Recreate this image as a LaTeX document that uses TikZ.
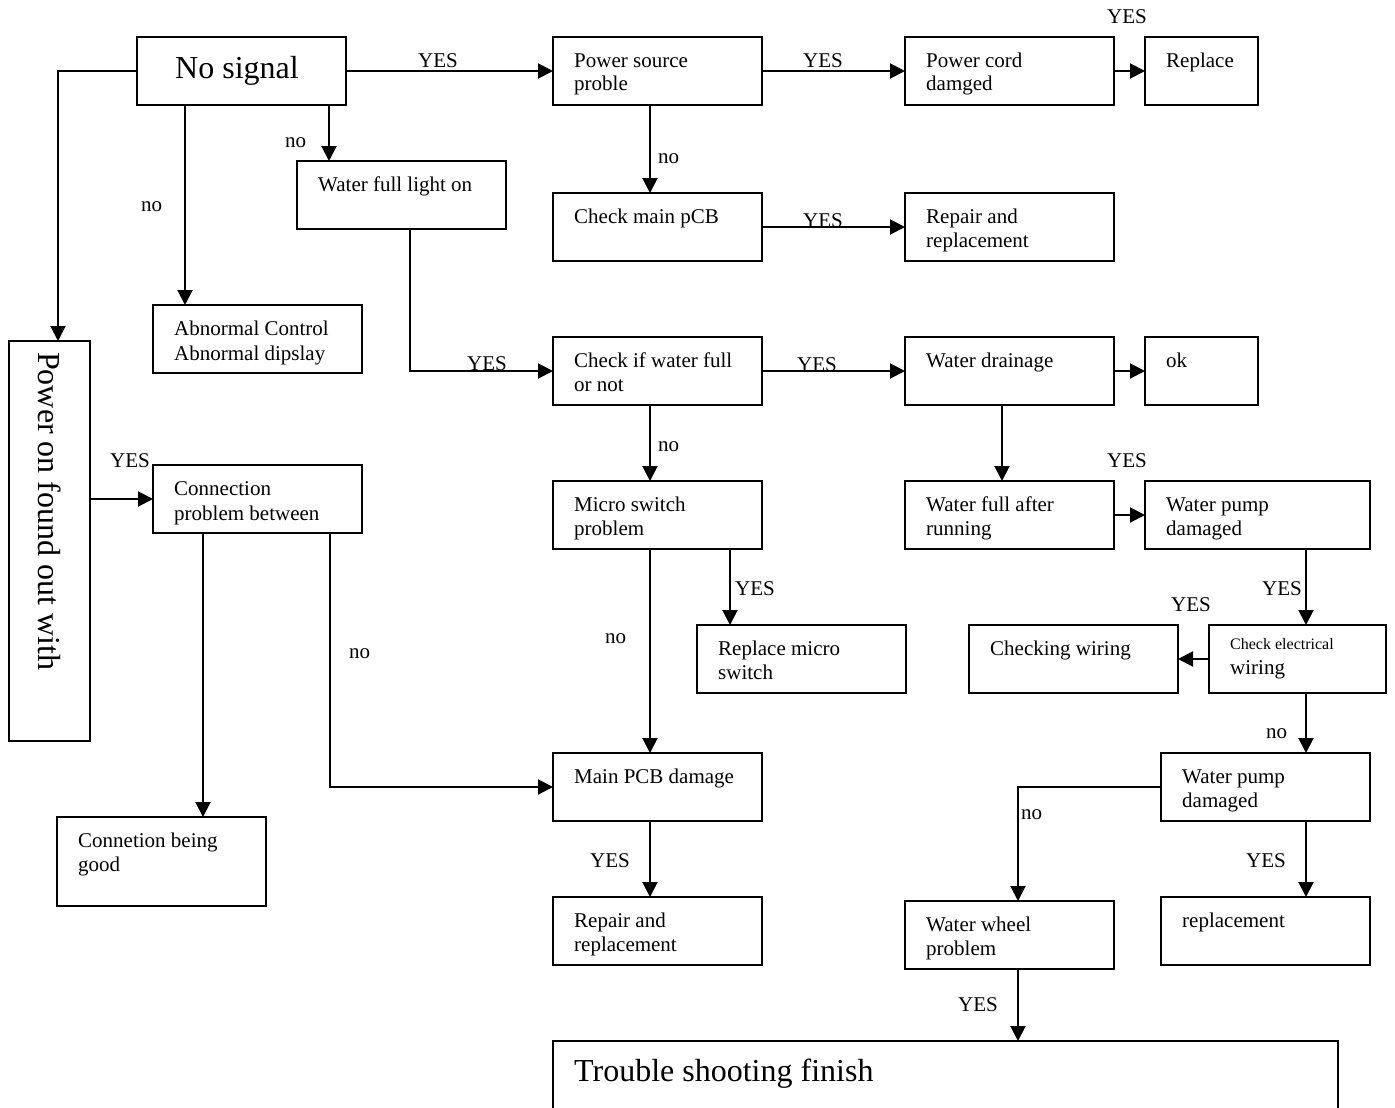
\documentclass[tikz,border=0pt]{standalone}
\usepackage{fontspec}
\setmainfont{Liberation Serif}
\usetikzlibrary{arrows.meta}
\tikzset{
  boxst/.style={draw, line width=2.2pt, inner sep=0pt, outer sep=0pt},
  txt/.style={anchor=base west, inner sep=0pt, font=\fontsize{21}{25}\selectfont},
  smalltxt/.style={anchor=base west, inner sep=0pt, font=\fontsize{16}{19}\selectfont},
  bigtxt/.style={anchor=base west, inner sep=0pt, font=\fontsize{32}{38}\selectfont},
  lbl/.style={anchor=base west, inner sep=0pt, font=\fontsize{21}{25}\selectfont},
  arr/.style={line width=2pt, -{Triangle[length=15pt,width=15pt]}},
}
\newcommand\bx[5]{\node[boxst, minimum width={#4-#2}, minimum height={#5-#3}] (#1) at ({(#2+#4)/2},{(#3+#5)/2}) {};}
\begin{document}
\begin{tikzpicture}[x=1pt,y=-1pt]
\useasboundingbox (0,0) rectangle (1395,1108);
\clip (0,0) rectangle (1395,1108);
\fill[white] (0,0) rectangle (1395,1108);
% helper x-coordinates
\foreach \xx in {58,185,203,329,330,410,650,730,1002,1018,1306}{\coordinate (x\xx) at (\xx,0);}
% boxes
\bx{ns}{137}{37}{346}{105}
\bx{ps}{553}{37}{762}{105}
\bx{pc}{905}{37}{1114}{105}
\bx{rp}{1145}{37}{1258}{105}
\bx{wfl}{297}{161}{506}{229}
\bx{cm}{553}{193}{762}{261}
\bx{rr1}{905}{193}{1114}{261}
\bx{ab}{153}{305}{362}{373}
\bx{po}{9}{341}{90}{741}
\bx{cw}{553}{337}{762}{405}
\bx{wd}{905}{337}{1114}{405}
\bx{ok}{1145}{337}{1258}{405}
\bx{cp}{153}{465}{362}{533}
\bx{ms}{553}{481}{762}{549}
\bx{wfa}{905}{481}{1114}{549}
\bx{wp}{1145}{481}{1370}{549}
\bx{rms}{697}{625}{906}{693}
\bx{chw}{969}{625}{1178}{693}
\bx{ce}{1209}{625}{1386}{693}
\bx{mp}{553}{753}{762}{821}
\bx{wp2}{1161}{753}{1370}{821}
\bx{cg}{57}{817}{266}{906}
\bx{rr2}{553}{897}{762}{965}
\bx{ww}{905}{901}{1114}{969}
\bx{rep}{1161}{897}{1370}{965}
\bx{tf}{553}{1041}{1338}{1140}
% box texts
\node[bigtxt] (tns) at (175,78) {No signal};
\node[txt] (tps1) at (574,67) {Power source};
\node[txt] (tps2) at (574,91) {proble};
\node[txt] (tpc1) at (926,67) {Power cord};
\node[txt] (tpc2) at (926,91) {damged};
\node[txt] (trp) at (1166,67) {Replace};
\node[txt] (twfl) at (318,191) {Water full light on};
\node[txt] (tcm) at (574,223) {Check main pCB};
\node[txt] (trr11) at (926,223) {Repair and};
\node[txt] (trr12) at (926,247) {replacement};
\node[txt] (tab1) at (174,335) {Abnormal Control};
\node[txt] (tab2) at (174,360) {Abnormal dipslay};
\node[bigtxt, rotate=-90] (tpo) at (38,352) {Power on found out with};
\node[txt] (tcw1) at (574,367) {Check if water full};
\node[txt] (tcw2) at (574,391) {or not};
\node[txt] (twd) at (926,367) {Water drainage};
\node[txt] (tok) at (1166,367) {ok};
\node[txt] (tcp1) at (174,495) {Connection};
\node[txt] (tcp2) at (174,520) {problem between};
\node[txt] (tms1) at (574,511) {Micro switch};
\node[txt] (tms2) at (574,535) {problem};
\node[txt] (twfa1) at (926,511) {Water full after};
\node[txt] (twfa2) at (926,535) {running};
\node[txt] (twp1) at (1166,511) {Water pump};
\node[txt] (twp2) at (1166,535) {damaged};
\node[txt] (trms1) at (718,655) {Replace micro};
\node[txt] (trms2) at (718,679) {switch};
\node[txt] (tchw) at (990,655) {Checking wiring};
\node[smalltxt] (tce1) at (1230,649) {Check electrical};
\node[txt] (tce2) at (1230,674) {wiring};
\node[txt] (tmp) at (574,783) {Main PCB damage};
\node[txt] (twp21) at (1182,783) {Water pump};
\node[txt] (twp22) at (1182,807) {damaged};
\node[txt] (tcg1) at (78,847) {Connetion being};
\node[txt] (tcg2) at (78,871) {good};
\node[txt] (trr21) at (574,927) {Repair and};
\node[txt] (trr22) at (574,951) {replacement};
\node[txt] (tww1) at (926,931) {Water wheel};
\node[txt] (tww2) at (926,955) {problem};
\node[txt] (trep) at (1182,927) {replacement};
\node[bigtxt] (ttf) at (574,1081) {Trouble shooting finish};
% connectors
\draw[arr] (ns.east) -- (ps.west);
\draw[arr] (ns.south -| x329) -- (wfl.north -| x329);
\draw[arr] (ns.south -| x185) -- (ab.north -| x185);
\draw[arr] (ns.west) -| (po.north -| x58);
\draw[arr] (ps.south -| x650) -- (cm.north -| x650);
\draw[arr] (ps.east) -- (pc.west);
\draw[arr] (pc.east) -- (rp.west);
\draw[arr] (cm.east) -- (rr1.west);
\draw[arr] (wfl.south -| x410) |- (cw.west);
\draw[arr] (cw.east) -- (wd.west);
\draw[arr] (wd.east) -- (ok.west);
\draw[arr] (cw.south -| x650) -- (ms.north -| x650);
\draw[arr] (wd.south -| x1002) -- (wfa.north -| x1002);
\draw[arr] (wfa.east) -- (wp.west);
\draw[arr] (ms.south -| x730) -- (rms.north -| x730);
\draw[arr] (ms.south -| x650) -- (mp.north -| x650);
\draw[arr] (cp.west -| po.east) -- (cp.west);
\draw[arr] (cp.south -| x203) -- (cg.north -| x203);
\draw[arr] (cp.south -| x330) |- (mp.west);
\draw[arr] (wp.south -| x1306) -- (ce.north -| x1306);
\draw[arr] (ce.west) -- (chw.east);
\draw[arr] (ce.south -| x1306) -- (wp2.north -| x1306);
\draw[arr] (wp2.west) -| (ww.north -| x1018);
\draw[arr] (wp2.south -| x1306) -- (rep.north -| x1306);
\draw[arr] (mp.south -| x650) -- (rr2.north -| x650);
\draw[arr] (ww.south -| x1018) -- (tf.north -| x1018);
% labels
\node[lbl] (l1) at (418,67) {YES};
\node[lbl] (l2) at (285,147) {no};
\node[lbl] (l3) at (141,211) {no};
\node[lbl] (l4) at (467,370) {YES};
\node[lbl] (l5) at (803,67) {YES};
\node[lbl] (l6) at (658,163) {no};
\node[lbl] (l7) at (1107,24) {YES};
\node[lbl] (l8) at (803,227) {YES};
\node[lbl] (l9) at (797,371) {YES};
\node[lbl] (l10) at (658,451) {no};
\node[lbl] (l11) at (1107,467) {YES};
\node[lbl] (l12) at (735,595) {YES};
\node[lbl] (l13) at (605,643) {no};
\node[lbl] (l14) at (1262,595) {YES};
\node[lbl] (l15) at (1171,611) {YES};
\node[lbl] (l16) at (1266,738) {no};
\node[lbl] (l17) at (1021,819) {no};
\node[lbl] (l18) at (590,867) {YES};
\node[lbl] (l19) at (1246,867) {YES};
\node[lbl] (l20) at (958,1011) {YES};
\node[lbl] (l21) at (110,467) {YES};
\node[lbl] (l22) at (349,658) {no};
\end{tikzpicture}
\end{document}
